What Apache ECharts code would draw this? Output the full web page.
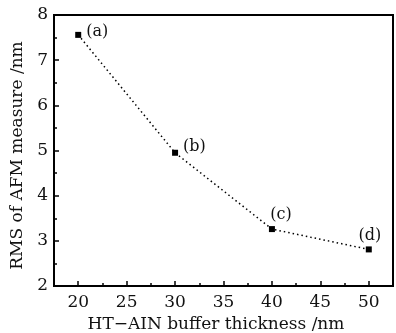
<!DOCTYPE html>
<html>
<head>
    <meta charset="utf-8">
    <title>RMS vs buffer thickness</title>
    <script src="https://cdn.jsdelivr.net/npm/echarts@6/dist/echarts.min.js"></script>
    <style>
        html, body { margin: 0; padding: 0; background: #fff; }
        #chart1 { width: 396px; height: 333px; }
    </style>
</head>
<body>
<div id="chart1"></div>
<script type="text/javascript">
    // 数据
    var thickness = [20, 30, 40, 50];
    var rms = [7.56, 4.95, 3.26, 2.81];
    var pointNames = ['(a)', '(b)', '(c)', '(d)'];
    var xMajorTicks = [20, 25, 30, 35, 40, 45, 50];
    var xMinorTicks = [22.5, 27.5, 32.5, 37.5, 42.5, 47.5];

    var font = 'DejaVu Serif';
    // label placement per point
    var labelPlace = [
        { position: 'right', offset: [0, -3] },
        { position: 'right', offset: [0, -6] },
        { position: 'top', offset: [9, 2] },
        { position: 'top', offset: [1, 2] }
    ];

    var points = thickness.map(function (t, i) {
        return {
            value: [t, rms[i]],
            name: pointNames[i],
            label: labelPlace[i]
        };
    });

    var myChart = echarts.init(document.getElementById('chart1'));
    var option = {
        animation: false,
        backgroundColor: '#fff',
        grid: {
            left: 54, right: 3, top: 15, bottom: 47,
            outerBoundsMode: 'none',
            show: true, borderColor: '#000', borderWidth: 2
        },
        xAxis: [{
            type: 'value',
            position: 'bottom',
            min: 17.5,
            max: 52.5,
            name: 'HT\u2212AIN buffer thickness /nm',
            nameLocation: 'middle',
            nameGap: 28,
            nameTextStyle: { fontFamily: font, fontSize: 17, color: '#111', padding: [0, 15, 0, 0] },
            axisLine: { lineStyle: { color: '#000', width: 2 } },
            axisTick: { inside: true, length: 5, customValues: xMajorTicks, lineStyle: { color: '#000', width: 1.5 } },
            axisLabel: { customValues: xMajorTicks, margin: 8, fontFamily: font, fontSize: 17, color: '#111' },
            splitLine: { show: false }
        }, {
            type: 'value',
            position: 'bottom',
            min: 17.5,
            max: 52.5,
            axisLine: { show: false },
            axisTick: { inside: true, length: 3, customValues: xMinorTicks, lineStyle: { color: '#000', width: 1.5 } },
            axisLabel: { show: false },
            splitLine: { show: false }
        }],
        yAxis: {
            type: 'value',
            min: 2,
            max: 8,
            interval: 1,
            name: 'RMS of AFM measure /nm',
            nameLocation: 'middle',
            nameGap: 26,
            nameTextStyle: { fontFamily: font, fontSize: 17, color: '#111', padding: [0, 10, 0, 0] },
            axisLine: { lineStyle: { color: '#000', width: 2 } },
            axisTick: { inside: true, length: 5, lineStyle: { color: '#000', width: 1.5 } },
            minorTick: { show: true, splitNumber: 2, length: 3, lineStyle: { color: '#000', width: 1.5 } },
            axisLabel: { margin: 6, fontFamily: font, fontSize: 17, color: '#111' },
            splitLine: { show: false }
        },
        series: [{
            type: 'line',
            xAxisIndex: 0,
            data: points,
            symbol: 'rect',
            symbolSize: 6,
            itemStyle: { color: '#000' },
            lineStyle: { color: '#000', width: 1.5, type: [1.5, 3] },
            label: {
                show: true,
                formatter: '{b}',
                fontFamily: font,
                fontSize: 16,
                color: '#111'
            }
        }]
    };
    myChart.setOption(option);
</script>
</body>
</html>
